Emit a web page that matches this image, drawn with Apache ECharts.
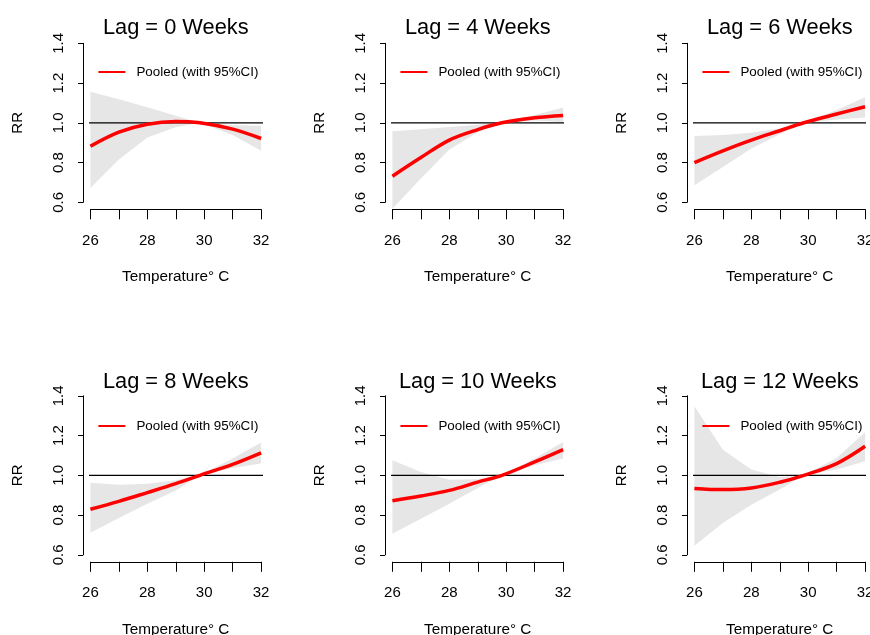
<!DOCTYPE html>
<html>
<head>
<meta charset="utf-8">
<script src="https://cdn.jsdelivr.net/npm/echarts@6/dist/echarts.min.js"></script>
<style>
  html, body { margin: 0; padding: 0; background: #fff; }
  #chart { width: 870px; height: 635px; }
</style>
</head>
<body>
<div id="chart"></div>
<script>
// Temperature grid (°C) at which the pooled relative risk was evaluated
const temps = [26, 27, 28, 29, 29.85, 31, 32];
const lagWeeks = [0, 4, 6, 8, 10, 12];

// Pooled RR with lower / upper 95% CI, one set per lag
const rrLag0  = [0.882, 0.953, 0.993, 1.007, 1.000, 0.968, 0.921];
const loLag0  = [0.672, 0.815, 0.926, 0.978, 1.000, 0.938, 0.859];
const hiLag0  = [1.156, 1.118, 1.078, 1.035, 1.000, 0.988, 0.985];

const rrLag4  = [0.731, 0.825, 0.913, 0.966, 1.000, 1.025, 1.037];
const loLag4  = [0.568, 0.720, 0.866, 0.953, 1.000, 1.012, 1.004];
const hiLag4  = [0.958, 0.968, 0.979, 0.990, 1.000, 1.039, 1.077];

const rrLag6  = [0.800, 0.859, 0.913, 0.960, 1.000, 1.044, 1.081];
const loLag6  = [0.686, 0.778, 0.871, 0.943, 1.000, 1.017, 1.027];
const hiLag6  = [0.933, 0.938, 0.950, 0.971, 1.000, 1.064, 1.128];

const rrLag8  = [0.829, 0.869, 0.913, 0.958, 1.000, 1.055, 1.113];
const loLag8  = [0.711, 0.785, 0.857, 0.924, 1.000, 1.037, 1.059];
const hiLag8  = [0.963, 0.953, 0.958, 0.975, 1.000, 1.084, 1.165];

const rrLag10 = [0.872, 0.896, 0.924, 0.966, 1.000, 1.067, 1.129];
const loLag10 = [0.706, 0.782, 0.857, 0.936, 1.000, 1.050, 1.084];
const hiLag10 = [1.076, 1.017, 0.978, 0.980, 1.000, 1.084, 1.168];

const rrLag12 = [0.934, 0.928, 0.936, 0.965, 1.000, 1.059, 1.146];
const loLag12 = [0.645, 0.760, 0.852, 0.928, 1.000, 1.029, 1.071];
const hiLag12 = [1.348, 1.129, 1.029, 0.992, 1.000, 1.087, 1.217];

// Axis ticks and labels
const xTicks = [26, 27, 28, 29, 30, 31, 32];
const xTickLabels = [26, 28, 30, 32];
const yTickLabels = [0.6, 0.8, 1.0, 1.2, 1.4];
const refRR = 1;
const legendLabel = 'Pooled (with 95%CI)';
const xAxisTitle = 'Temperature\u00b0 C';
const yAxisTitle = 'RR';

const panels = [
  { lag: lagWeeks[0], rr: rrLag0,  lo: loLag0,  hi: hiLag0 },
  { lag: lagWeeks[1], rr: rrLag4,  lo: loLag4,  hi: hiLag4 },
  { lag: lagWeeks[2], rr: rrLag6,  lo: loLag6,  hi: hiLag6 },
  { lag: lagWeeks[3], rr: rrLag8,  lo: loLag8,  hi: hiLag8 },
  { lag: lagWeeks[4], rr: rrLag10, lo: loLag10, hi: hiLag10 },
  { lag: lagWeeks[5], rr: rrLag12, lo: loLag12, hi: hiLag12 }
];

// Layout of the 2 x 3 panel grid
const FONT = "'Liberation Sans', Arial, Helvetica, sans-serif";
const colStep = 302, rowStep = 352.5;
const gLeft = 90.4, gTop = 43.3, gW = 170.7, gH = 159;

const xMin = xTicks[0], xMax = xTicks[xTicks.length - 1];
const yMin = yTickLabels[0], yMax = yTickLabels[yTickLabels.length - 1];
const xPad = 0.04 * (xMax - xMin);   // plot region extends 4% past the data range

const grids = [], xAxes = [], yAxes = [], titles = [], legends = [], series = [];

panels.forEach((p, i) => {
  const col = i % 3, row = Math.floor(i / 3);
  const left = gLeft + col * colStep;
  const top = gTop + row * rowStep;

  grids.push({ left, top, width: gW, height: gH, containLabel: false, outerBoundsMode: 'none' });

  xAxes.push({
    gridIndex: i, type: 'value', position: 'bottom', offset: 7,
    min: xMin, max: xMax, interval: 1,
    splitLine: { show: false },
    axisLine: { show: true, lineStyle: { color: '#000', width: 1 } },
    axisTick: { show: true, length: 10, lineStyle: { color: '#000', width: 1 } },
    axisLabel: {
      margin: 24, color: '#000', fontSize: 15, fontFamily: FONT,
      showMinLabel: true, showMaxLabel: true, hideOverlap: false,
      formatter: v => (xTickLabels.includes(v) ? String(v) : '')
    },
    name: xAxisTitle, nameLocation: 'middle', nameGap: 60,
    nameTextStyle: { color: '#000', fontSize: 15.3, fontFamily: FONT }
  });

  yAxes.push({
    gridIndex: i, type: 'value', position: 'left', offset: 7.4,
    min: yMin, max: yMax, interval: 0.2,
    splitLine: { show: false },
    axisLine: { show: true, lineStyle: { color: '#000', width: 1 } },
    axisTick: { show: true, length: 5, lineStyle: { color: '#000', width: 1 } },
    axisLabel: {
      rotate: 90, margin: 17, color: '#000', fontSize: 15, fontFamily: FONT,
      showMinLabel: true, showMaxLabel: true, hideOverlap: false,
      formatter: v => v.toFixed(1)
    },
    name: yAxisTitle, nameLocation: 'middle', nameGap: 58,
    nameTextStyle: { color: '#000', fontSize: 15, fontFamily: FONT }
  });

  titles.push({
    text: 'Lag = ' + p.lag + ' Weeks',
    left: left + gW / 2, top: 17 + row * 354, textAlign: 'center', padding: 0,
    textStyle: { color: '#000', fontSize: 21.8, fontWeight: 'normal', fontFamily: FONT }
  });

  legends.push({
    data: [legendLabel], left: left + 8, top: 65.5 + row * 354, padding: 0,
    icon: 'rect', itemWidth: 27, itemHeight: 2, selectedMode: false,
    textStyle: { color: '#000', fontSize: 13.4, fontFamily: FONT, padding: [0, 0, 0, 6] }
  });

  // 95% CI band: one polygon along the upper bound and back along the lower bound
  series.push({
    type: 'custom', xAxisIndex: i, yAxisIndex: i, silent: true, z: 1,
    data: temps.map((t, k) => [t, p.lo[k], p.hi[k]]),
    encode: { x: 0, y: [1, 2] },
    renderItem: (params, api) => {
      if (params.dataIndex !== 0) return null;
      const upper = temps.map((t, k) => api.coord([t, p.hi[k]]));
      const lower = temps.map((t, k) => api.coord([t, p.lo[k]])).reverse();
      return {
        type: 'polygon',
        shape: { points: upper.concat(lower) },
        style: { fill: '#e6e6e6', stroke: null }
      };
    }
  });

  // Reference line at RR = 1 across the full plot region
  series.push({
    type: 'line', xAxisIndex: i, yAxisIndex: i, silent: true, clip: false, z: 2,
    data: [[xMin - xPad, refRR], [xMax + xPad, refRR]],
    symbol: 'none', lineStyle: { color: '#000', width: 1.3 }
  });

  // Pooled relative risk curve
  series.push({
    name: legendLabel, type: 'line', xAxisIndex: i, yAxisIndex: i, clip: false, z: 3,
    data: temps.map((t, k) => [t, p.rr[k]]),
    smooth: 0.35, symbol: 'none',
    lineStyle: { color: '#ff0000', width: 3.5 },
    itemStyle: { color: '#ff0000' }
  });
});

const chart = echarts.init(document.getElementById('chart'), null, { renderer: 'canvas' });
chart.setOption({
  animation: false,
  backgroundColor: '#fff',
  title: titles,
  legend: legends,
  grid: grids,
  xAxis: xAxes,
  yAxis: yAxes,
  series: series
});
</script>
</body>
</html>
